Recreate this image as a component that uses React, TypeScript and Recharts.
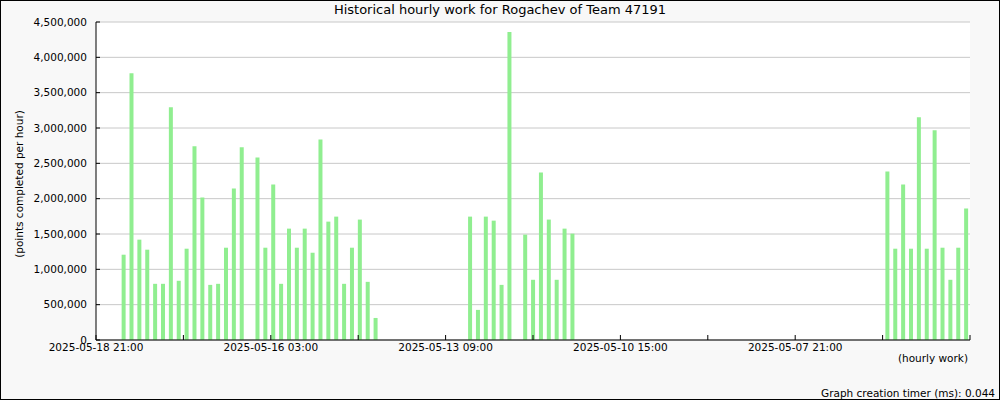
import React from 'react';
import { BarChart, Bar, XAxis, YAxis, CartesianGrid } from 'recharts';

// 3-hour slots counted from the left edge of the chart (newest first)
const slots = [
  3, 4, 5, 6, 7, 8, 9, 10, 11, 12, 13, 14, 15, 16, 17, 18,
  20, 21, 22, 23, 24, 25, 26, 27, 28, 29, 30, 31, 32, 33, 34, 35,
  47, 48, 49, 50, 51, 52, 54, 55, 56, 57, 58, 59, 60,
  100, 101, 102, 103, 104, 105, 106, 107, 108, 109, 110,
];

const points = [
  1207000, 3776000, 1420000, 1278000, 795000, 795000, 3293000, 838000, 1292000, 2740000, 2016000, 780000, 795000, 1306000, 2144000, 2726000,
  2584000, 1306000, 2200000, 795000, 1576000, 1306000, 1576000, 1235000, 2839000, 1675000, 1746000, 795000, 1306000, 1704000, 823000, 312000,
  1746000, 426000, 1746000, 1689000, 780000, 4358000, 1491000, 852000, 2371000, 1704000, 852000, 1576000, 1505000,
  2385000, 1292000, 2200000, 1292000, 3152000, 1292000, 2967000, 1306000, 852000, 1306000, 1860000,
];

const tickLabels = [
  '2025-05-18 21:00', '', '2025-05-16 03:00', '', '2025-05-13 09:00', '',
  '2025-05-10 15:00', '', '2025-05-07 21:00', '', '',
];

const yTicks = [0, 500000, 1000000, 1500000, 2000000, 2500000, 3000000, 3500000, 4000000, 4500000];

const SLOT_COUNT = 111;
const xTicks = tickLabels.map((_, i) => (SLOT_COUNT / 10) * i);

const data = slots.map((s, i) => ({ slot: s + 0.5, points: points[i] }));

const font = '"DejaVu Sans", sans-serif';

export default function App() {
  return (
    <div style={{ position: 'absolute', left: 0, top: 0, width: 1000, height: 400, background: '#f8f8f8', fontFamily: font }}>
      <div style={{ position: 'absolute', left: 0, top: 3, width: 1000, textAlign: 'center', fontSize: 13, lineHeight: '14px' }}>
        Historical hourly work for Rogachev of Team 47191
      </div>
      <BarChart
        width={1000}
        height={400}
        data={data}
        margin={{ top: 22, right: 30, left: 36, bottom: 30 }}
      >
        <CartesianGrid fill="#ffffff" stroke="#c8c8c8" vertical={false} />
        <XAxis
          dataKey="slot"
          type="number"
          domain={[0, SLOT_COUNT]}
          ticks={xTicks}
          interval={0}
          height={30}
          tickSize={-5}
          tickMargin={9}
          stroke="#000"
          tick={{ fill: '#000', fontSize: 10.5, fontFamily: font }}
          tickFormatter={(v: number) => tickLabels[Math.round(v / (SLOT_COUNT / 10))] || ''}
        />
        <YAxis
          type="number"
          domain={[0, 4500000]}
          ticks={yTicks}
          interval={0}
          width={60}
          tickSize={-4}
          tickMargin={13}
          stroke="#000"
          tick={{ fill: '#000', fontSize: 10.5, fontFamily: font }}
          tickFormatter={(v: number) => v.toLocaleString('en-US')}
        />
        <Bar dataKey="points" fill="#90ee90" barSize={4} isAnimationActive={false} />
      </BarChart>
      <div style={{ position: 'absolute', left: 19, top: 184, fontSize: 10.5, lineHeight: '12px', whiteSpace: 'nowrap', transform: 'translate(-50%, -50%) rotate(-90deg)' }}>
        (points completed per hour)
      </div>
      <div style={{ position: 'absolute', right: 32, top: 352, fontSize: 10.5, lineHeight: '12px' }}>
        (hourly work)
      </div>
      <div style={{ position: 'absolute', right: 5, top: 387, fontSize: 10.5, lineHeight: '12px' }}>
        Graph creation timer (ms): 0.044
      </div>
      <div style={{ position: 'absolute', left: 0, top: 0, width: 1000, height: 400, border: '1px solid #000', boxSizing: 'border-box', pointerEvents: 'none' }} />
    </div>
  );
}
